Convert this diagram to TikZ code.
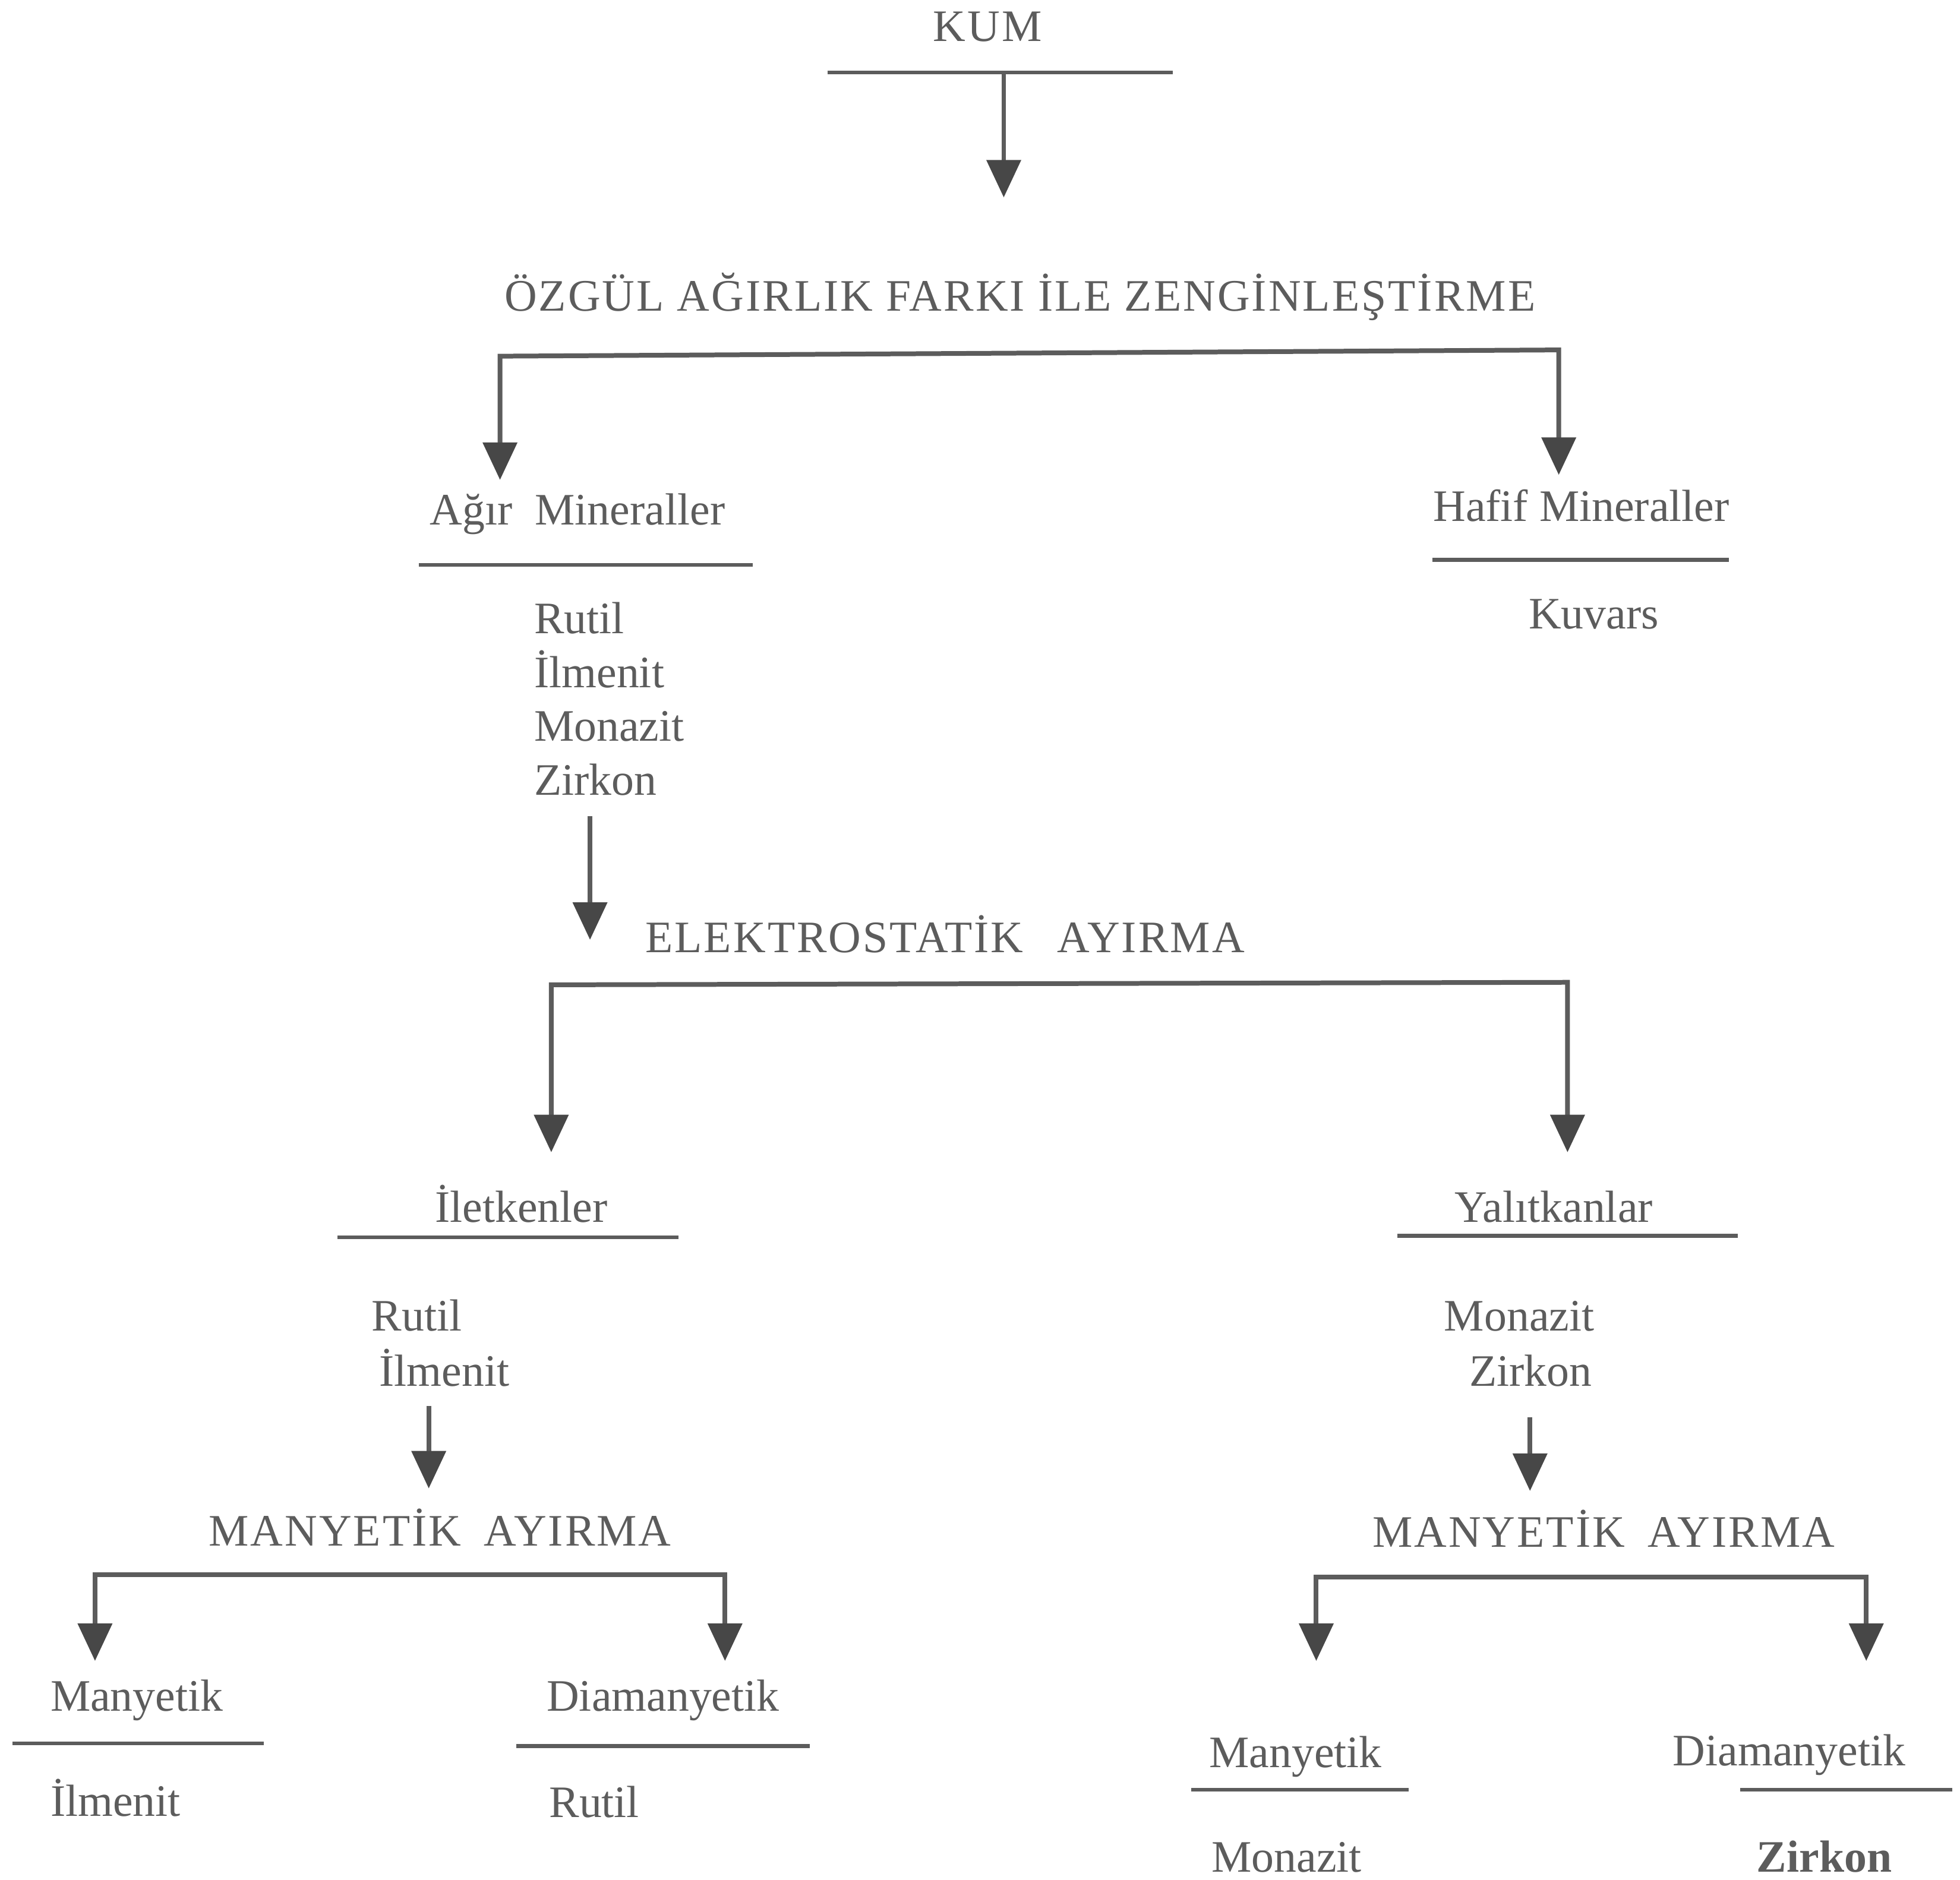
\documentclass[tikz,border=0pt]{standalone}
\usepackage{fontspec}
\setmainfont{Liberation Serif}
\usetikzlibrary{arrows.meta}
\definecolor{ink}{HTML}{5C5C5C}
\definecolor{tipink}{HTML}{474747}
\begin{document}
\begin{tikzpicture}[x=0.5pt,y=-0.5pt,
  txt/.style={inner sep=0pt,text=ink,font=\fontsize{18}{21.6}\selectfont},
  ctr/.style={txt,anchor=base},
  caps/.style={txt,anchor=base,font=\fontsize{18}{21.6}\selectfont\addfontfeature{LetterSpace=4}},
  lft/.style={txt,anchor=base west},
  rule/.style={draw=ink,line width=1.6pt},
  conn/.style={draw=ink,line width=1.9pt,-{Triangle[length=15pt,width=13.5pt,color=tipink]}},
  fork/.style={draw=ink,line width=1.9pt,{Triangle[length=15pt,width=13.5pt,color=tipink]}-{Triangle[length=15pt,width=13.5pt,color=tipink]}}]
\useasboundingbox[fill=white] (0,0) rectangle (1568,1504);

% ---- texts ----
\node[caps] (kum) at (790,33) {KUM};
\node[caps] (ozg) at (816,249) {ÖZGÜL AĞIRLIK FARKI İLE ZENGİNLEŞTİRME};
\node[ctr] (agir) at (462,420) {Ağır\hspace{0.5em}Mineraller};
\node[ctr] (hafif) at (1265,417) {Hafif Mineraller};
\node[lft] (l1) at (427,507) {Rutil};
\node[lft] (l2) at (427,550) {İlmenit};
\node[lft] (l3) at (427,593) {Monazit};
\node[lft] (l4) at (427,636) {Zirkon};
\node[ctr] (kuv) at (1275,503) {Kuvars};
\node[caps] (elek) at (756,762) {ELEKTROSTATİK\hspace{0.75em}AYIRMA};
\node[ctr] (ilet) at (417,978) {İletkenler};
\node[ctr] (yal) at (1243,978) {Yalıtkanlar};
\node[lft] (ir1) at (297,1065) {Rutil};
\node[lft] (ir2) at (303,1109) {İlmenit};
\node[lft] (yr1) at (1155,1065) {Monazit};
\node[lft] (yr2) at (1175,1109) {Zirkon};
\node[caps] (manL) at (352,1237) {MANYETİK\hspace{0.5em}AYIRMA};
\node[caps] (manR) at (1283,1238) {MANYETİK\hspace{0.5em}AYIRMA};
\node[lft] (mL) at (40,1369) {Manyetik};
\node[lft] (mLi) at (40,1453) {İlmenit};
\node[lft] (dL) at (437,1369) {Diamanyetik};
\node[lft] (dLr) at (439,1454) {Rutil};
\node[lft] (mR) at (967,1414) {Manyetik};
\node[lft] (mRm) at (969,1498) {Monazit};
\node[lft] (dR) at (1338,1413) {Diamanyetik};
\node[lft,font=\fontsize{18}{21.6}\selectfont\bfseries] (dRz) at (1405,1498) {Zirkon};

% ---- rules under headings ----
\draw[rule] (662,58) coordinate (kumL) -- (938,58) coordinate (kumR);
\draw[rule] (335,452) coordinate (agL) -- (602,452) coordinate (agR);
\draw[rule] (1146,448) coordinate (hfL) -- (1383,448) coordinate (hfR);
\draw[rule] (270,990) coordinate (ilL) -- (543,990) coordinate (ilR);
\draw[rule] (1118,989) coordinate (yaL) -- (1390,989) coordinate (yaR);
\draw[rule] (10,1395) coordinate (mlL) -- (211,1395) coordinate (mlR);
\draw[rule] (413,1397) coordinate (dlL) -- (648,1397) coordinate (dlR);
\draw[rule] (953,1432) coordinate (mrL) -- (1127,1432) coordinate (mrR);
\draw[rule] (1392,1432) coordinate (drL) -- (1562,1432) coordinate (drR);

% ---- connector end points ----
\coordinate (kumS) at (803,58);
\coordinate (ozgT) at (803,158);
\coordinate (f1a) at (400,384);
\coordinate (f1b) at (400,285);
\coordinate (f1c) at (1247,280);
\coordinate (f1d) at (1247,380);
\coordinate (lsS) at (472,653);
\coordinate (lsT) at (472,752);
\coordinate (f2a) at (441,922);
\coordinate (f2b) at (441,788);
\coordinate (f2c) at (1254,786);
\coordinate (f2d) at (1254,922);
\coordinate (ilS) at (343,1125);
\coordinate (ilT) at (343,1191);
\coordinate (yaS) at (1224,1134);
\coordinate (yaT) at (1224,1193);
\coordinate (f3a) at (76,1329);
\coordinate (f3b) at (76,1260);
\coordinate (f3c) at (580,1260);
\coordinate (f3d) at (580,1329);
\coordinate (f4a) at (1053,1329);
\coordinate (f4b) at (1053,1262);
\coordinate (f4c) at (1493,1262);
\coordinate (f4d) at (1493,1329);

% ---- connectors ----
\draw[conn] (kumS) -- (ozgT);
\draw[fork] (f1a) -- (f1b) -- (f1c) -- (f1d);
\draw[conn] (lsS) -- (lsT);
\draw[fork] (f2a) -- (f2b) -- (f2c) -- (f2d);
\draw[conn] (ilS) -- (ilT);
\draw[conn] (yaS) -- (yaT);
\draw[fork] (f3a) -- (f3b) -- (f3c) -- (f3d);
\draw[fork] (f4a) -- (f4b) -- (f4c) -- (f4d);
\end{tikzpicture}
\end{document}
